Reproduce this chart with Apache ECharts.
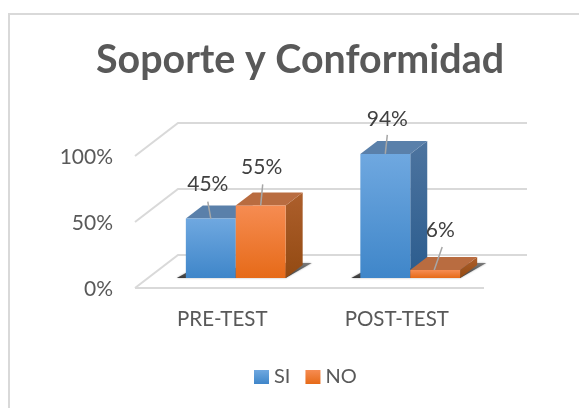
<!DOCTYPE html>
<html><head><meta charset="utf-8">
<style>html,body{margin:0;padding:0;background:#fff}#c{width:579px;height:408px}</style>
<script src="https://cdn.jsdelivr.net/npm/echarts@6/dist/echarts.min.js"></script>
</head><body><div id="c"></div>
<script>
const categories = ['PRE-TEST', 'POST-TEST'];
const siValues = [45, 94];
const noValues = [55, 6];
const yTicks = [0, 50, 100];
const titleText = 'Soporte y Conformidad';

const FONT = 'Lato';
const DEPTH_X = 17, DEPTH_Y = -13;       // depth of a bar
const FLOOR_X = 43, FLOOR_Y = -33;       // front edge -> back wall of the floor
const BAR_X = 13.5, BAR_Y = -10;         // bar front plane relative to the floor front edge
const BAR_RATIO = 0.286;

function lin(a, b) {
  return { type: 'linear', x: 0, y: 0, x2: 0, y2: 1,
    colorStops: [{ offset: 0, color: a }, { offset: 1, color: b }] };
}
const paints = {
  SI: { front: lin('#6fa8e0', '#3f86c9'), top: '#5a80aa', side: lin('#4d749f', '#2b5c8e') },
  NO: { front: lin('#f68c52', '#e66a18'), top: '#b96c40', side: lin('#ad5f2c', '#934a12') }
};
// label placement relative to the bar's top centre, per series and category
const labelNudge = {
  SI: [{ dx: -3, dy: -34 }, { dx: 2, dy: -35 }],
  NO: [{ dx: 1, dy: -38 }, { dx: 6, dy: -40 }]
};
const leaderNudge = {
  SI: [{ dx: -3, dy: -17 }, { dx: 2, dy: -19 }],
  NO: [{ dx: 2, dy: -21 }, { dx: 8, dy: -23 }]
};

function poly(points, fill, extra) {
  return Object.assign({ type: 'polygon', shape: { points }, style: { fill } }, extra || {});
}
function barItem(name, seriesSlot, values) {
  return function (params, api) {
    const i = params.dataIndex;
    const band = api.size([1, 0])[0];
    const w = band * BAR_RATIO;
    const c = api.coord([i, values[i]]);
    const c0 = api.coord([i, 0]);
    const x0 = c0[0] + BAR_X + (seriesSlot === 0 ? -w : 0);
    const x1 = x0 + w;
    const yT = c[1] + BAR_Y;
    const yB = c0[1] + BAR_Y;
    const p = paints[name];
    const lead = leaderNudge[name][i], lab = labelNudge[name][i];
    const cx = (x0 + x1) / 2 + (name === 'NO' && i === 1 ? -1 : 0);
    return { type: 'group', children: [
      poly([[x1, yT], [x1 + DEPTH_X, yT + DEPTH_Y], [x1 + DEPTH_X, yB + DEPTH_Y], [x1, yB]], p.side),
      poly([[x0, yT], [x1, yT], [x1 + DEPTH_X, yT + DEPTH_Y], [x0 + DEPTH_X, yT + DEPTH_Y]], p.top),
      { type: 'rect', shape: { x: x0, y: yT, width: w, height: yB - yT }, style: { fill: p.front } },
      { type: 'line', shape: { x1: cx, y1: yT, x2: cx + lead.dx, y2: yT + lead.dy },
        style: { stroke: '#a6a6a6', lineWidth: 1.5 } },
      { type: 'text', x: cx + lab.dx, y: yT + lab.dy, z2: 10,
        style: { text: values[i] + '%', fill: '#404040', font: '21px ' + FONT, align: 'center', verticalAlign: 'middle' } }
    ] };
  };
}
function floorItem(params, api) {
  const v = yTicks[params.dataIndex];
  const band = api.size([1, 0])[0];
  const c = api.coord([0, v]);
  const xL = c[0] - band / 2;
  const xR = xL + band * categories.length;
  const stroke = { stroke: '#d9d9d9', lineWidth: 2, fill: null };
  const kids = [{ type: 'polyline',
    shape: { points: [[xL, c[1]], [xL + FLOOR_X, c[1] + FLOOR_Y], [xR + FLOOR_X, c[1] + FLOOR_Y]] }, style: stroke }];
  if (v === 0) kids.push({ type: 'line', shape: { x1: xL, y1: c[1], x2: xR, y2: c[1] }, style: stroke });
  return { type: 'group', children: kids };
}
function shadowItem(params, api) {
  const i = params.dataIndex;
  const band = api.size([1, 0])[0];
  const w = band * BAR_RATIO;
  const c0 = api.coord([i, 0]);
  const xA = c0[0] + BAR_X - w, xB = c0[0] + BAR_X + w;
  const y = c0[1] + BAR_Y;
  return poly([[xA - 9, y], [xB, y], [xB + 26, y - 15], [xB, y - 15], [xA, y - 5]], '#3a3a3a',
    { style: { fill: lin('#7a7a7a', '#3a3a3a'), shadowBlur: 2, shadowColor: 'rgba(0,0,0,0.35)' } });
}

const chart = echarts.init(document.getElementById('c'), null, { renderer: 'canvas' });
chart.setOption({
  animation: false,
  backgroundColor: '#fff',
  title: { text: titleText, left: 295, top: 36, textAlign: 'center',
    textStyle: { fontFamily: FONT, fontWeight: 'bold', fontSize: 39.4, color: '#595959' } },
  legend: { data: ['SI', 'NO'], left: 249, top: 362, itemWidth: 15, itemHeight: 14, itemGap: 15,
    selectedMode: false, icon: 'rect',
    textStyle: { fontFamily: FONT, fontSize: 20, color: '#595959' } },
  grid: { left: 135, top: 156, width: 349, height: 132, containLabel: false },
  xAxis: { type: 'category', data: categories, axisLine: { show: false }, axisTick: { show: false },
    axisLabel: { fontFamily: FONT, fontSize: 20.5, color: '#595959', margin: 21 } },
  yAxis: { type: 'value', min: 0, max: 100, interval: 50, axisLine: { show: false }, axisTick: { show: false },
    splitLine: { show: false },
    axisLabel: { formatter: '{value}%', fontFamily: FONT, fontSize: 21, color: '#595959', margin: 22, verticalAlign: 'top', padding: [-9, 0, 0, 0] } },
  graphic: [
    { type: 'polyline', shape: { points: [[9, 408], [9, 14], [579, 14]] }, style: { stroke: '#d9d9d9', lineWidth: 2, fill: null } }
  ],
  series: [
    { type: 'custom', name: 'floor', coordinateSystem: 'cartesian2d', silent: true, z: 1,
      data: yTicks.map(v => [0, v]), encode: { x: 0, y: 1 }, renderItem: floorItem, clip: false },
    { type: 'custom', name: 'shadow', coordinateSystem: 'cartesian2d', silent: true, z: 2,
      data: categories.map((_, i) => [i, 0]), encode: { x: 0, y: 1 }, renderItem: shadowItem, clip: false },
    { type: 'custom', name: 'SI', coordinateSystem: 'cartesian2d', z: 3, clip: false,
      itemStyle: { color: paints.SI.front },
      data: siValues.map((v, i) => [i, v]), encode: { x: 0, y: 1 }, renderItem: barItem('SI', 0, siValues) },
    { type: 'custom', name: 'NO', coordinateSystem: 'cartesian2d', z: 4, clip: false,
      itemStyle: { color: paints.NO.front },
      data: noValues.map((v, i) => [i, v]), encode: { x: 0, y: 1 }, renderItem: barItem('NO', 1, noValues) }
  ]
});
</script></body></html>
